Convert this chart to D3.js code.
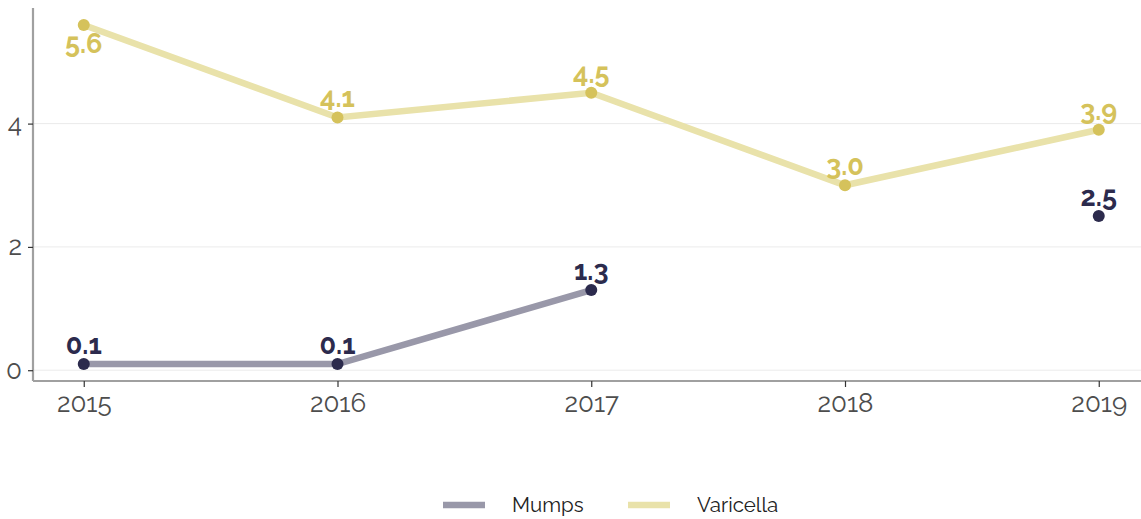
<!DOCTYPE html>
<html><head><meta charset="utf-8">
<script src="https://cdn.jsdelivr.net/npm/d3@7"></script>
<style>body{margin:0;background:#fff}svg{display:block}</style>
</head><body><svg id="c" width="1141" height="519"></svg>
<script>
const years = [2015, 2016, 2017, 2018, 2019];
const mumps = [0.1, 0.1, 1.3, null, 2.5];
const varicella = [5.6, 4.1, 4.5, 3.0, 3.9];
const yTicks = [0, 2, 4];
const seriesNames = ["Mumps", "Varicella"];

const svg = d3.select("#c");
const font = "Raleway, Lato, 'Open Sans', sans-serif";
const x = d3.scaleLinear().domain([2014.8, 2019.2]).range([33, 1149.5]);
const y = d3.scaleLinear().domain([-0.175, 5.875]).range([381, 8]);

// grid
svg.append("g").selectAll("line").data(yTicks).join("line")
  .attr("x1", 33).attr("x2", 1141).attr("y1", d => y(d)).attr("y2", d => y(d))
  .attr("stroke", "#ebebeb").attr("stroke-width", 1);

// axes
const yAxis = svg.append("g").attr("transform", "translate(33,0)")
  .call(d3.axisLeft(y).tickValues(yTicks).tickSize(5).tickPadding(6).tickFormat(d3.format("d")));
const xAxis = svg.append("g").attr("transform", "translate(0,381)")
  .call(d3.axisBottom(x).tickValues(years).tickSize(6).tickPadding(7).tickFormat(d3.format("d")));
[yAxis, xAxis].forEach(a => {
  a.select(".domain").attr("stroke", "#a0a0a0").attr("stroke-width", 2.2);
  a.selectAll(".tick line").attr("stroke", "#333").attr("stroke-width", 1.2);
  a.selectAll(".tick text").attr("fill", "#4d4d4d").style("font-family", font).style("font-size", "26px");
});
yAxis.selectAll(".tick text").attr("dy", "0.3em");
yAxis.select(".domain").attr("d", "M0,8V381");
xAxis.select(".domain").attr("d", "M33,0H1141");

const series = [
  {name: "Mumps", vals: mumps, line: "#9998a9", pt: "#2c2b4d"},
  {name: "Varicella", vals: varicella, line: "#e9e2aa", pt: "#d5c25b"}
];
const lineGen = d3.line().defined(d => d.v != null).x(d => x(d.year)).y(d => y(d.v));

series.forEach(s => {
  const data = years.map((yr, i) => ({year: yr, v: s.vals[i]}));
  svg.append("path").datum(data).attr("d", lineGen)
    .attr("fill", "none").attr("stroke", s.line).attr("stroke-width", 6.5);
});
series.forEach(s => {
  const data = years.map((yr, i) => ({year: yr, v: s.vals[i]})).filter(d => d.v != null);
  svg.append("g").selectAll("circle").data(data).join("circle")
    .attr("cx", d => x(d.year)).attr("cy", d => y(d.v)).attr("r", 6).attr("fill", s.pt);
  svg.append("g").selectAll("text").data(data).join("text")
    .attr("x", d => x(d.year))
    .attr("y", d => d.v > 5.5 ? y(d.v) + 28 : y(d.v) - 10)
    .attr("text-anchor", "middle")
    .attr("fill", s.pt).style("font-family", font).style("font-weight", "bold").style("font-size", "27px")
    .text(d => d3.format(".1f")(d.v));
});

// legend
const leg = [{name: "Mumps", c: "#9998a9", x: 443}, {name: "Varicella", c: "#e9e2aa", x: 628}];
leg.forEach(l => {
  svg.append("line").attr("x1", l.x).attr("x2", l.x + 42).attr("y1", 505).attr("y2", 505)
    .attr("stroke", l.c).attr("stroke-width", 6.5);
  svg.append("text").attr("x", l.x + 69).attr("y", 512).attr("fill", "#222")
    .style("font-family", font).style("font-size", "20.5px").text(l.name);
});
</script></body></html>
